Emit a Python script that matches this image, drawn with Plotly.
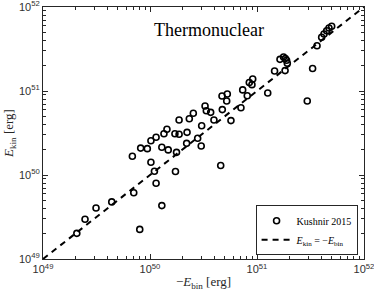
import plotly.graph_objects as go

# Kushnir 2015 data: -E_bin [erg] and E_kin [erg]
e_bin = [2.07e49, 2.47e49, 3.13e49, 4.39e49, 7.05e49, 8.02e49, 6.84e49, 8.18e49, 9.44e49,
         1.02e50, 1.02e50, 1.10e50, 1.14e50, 1.29e50, 1.29e50, 1.48e50, 1.14e50, 1.35e50,
         1.44e50, 1.77e50, 1.73e50, 2.20e50, 1.71e50, 1.87e50, 1.87e50, 2.22e50, 2.33e50,
         2.54e50, 2.79e50, 3.04e50, 3.01e50, 3.27e50, 3.36e50, 3.69e50, 3.96e50, 4.58e50,
         4.74e50, 4.71e50, 5.28e50, 5.21e50, 5.71e50, 7.08e50, 7.35e50, 8.11e50, 8.47e50,
         9.12e50, 8.97e50, 1.26e51, 1.46e51, 1.64e51, 1.77e51, 1.84e51, 1.89e51, 1.92e51,
         1.83e51, 2.95e51, 3.31e51, 3.64e51, 4.02e51, 4.23e51, 4.48e51, 4.71e51, 4.99e51]
e_kin = [2.02e49, 2.97e49, 4.05e49, 4.78e49, 6.15e49, 2.25e49, 1.67e50, 2.09e50, 2.06e50,
         2.56e50, 1.42e50, 1.11e50, 7.96e49, 4.32e49, 2.14e50, 1.99e50, 2.81e50, 3.10e50,
         3.50e50, 1.86e50, 1.10e50, 2.38e50, 3.10e50, 3.05e50, 4.52e50, 3.22e50, 4.68e50,
         5.43e50, 2.74e50, 3.86e50, 2.21e50, 6.62e50, 5.83e50, 5.57e50, 4.52e50, 1.30e50,
         6.01e50, 8.71e50, 9.20e50, 7.60e50, 4.44e50, 6.32e50, 1.03e51, 8.79e50, 1.26e51,
         1.39e51, 1.19e51, 9.46e50, 1.73e51, 2.38e51, 2.54e51, 2.43e51, 2.32e51, 2.14e51,
         1.75e51, 7.60e50, 1.85e51, 3.46e51, 4.36e51, 4.78e51, 5.22e51, 5.62e51, 5.89e51]

# identity line E_kin = -E_bin
line_x = [1e49, 1e52]
line_y = [1e49, 1e52]

tick_vals = [1e49, 1e50, 1e51, 1e52]
tick_text = ["10<sup>49</sup>", "10<sup>50</sup>", "10<sup>51</sup>", "10<sup>52</sup>"]
minor_vals = [float(m) * 10.0 ** e for e in (49, 50, 51) for m in range(2, 10)]
axis_range = [49 - 1e-4, 52 + 1e-4]

serif = "Liberation Serif, DejaVu Serif, serif"
sans = "Liberation Sans, Arial, sans-serif"

fig = go.Figure()
fig.add_trace(go.Scatter(
    x=e_bin, y=e_kin, mode="markers", name="Kushnir 2015",
    marker=dict(symbol="circle-open", size=6, color="black", line=dict(width=1.6, color="black")),
))
fig.add_trace(go.Scatter(
    x=line_x, y=line_y, mode="lines",
    name="<i>E</i><sub>kin</sub> = \u2212<i>E</i><sub>bin</sub>",
    line=dict(color="black", width=2, dash="6px,5px"),
))

axis_common = dict(
    type="log", range=axis_range, tickvals=tick_vals, ticktext=tick_text,
    showline=True, linecolor="#262626", linewidth=1, mirror="ticks",
    ticks="inside", ticklen=5, tickcolor="#262626", tickwidth=1,
    showgrid=False, zeroline=False, automargin=False, ticklabeloverflow="allow",
    tickfont=dict(family=sans, size=11, color="#303030"),
    minor=dict(ticks="inside", ticklen=3, tickcolor="#262626", showgrid=False,
               tickvals=minor_vals),
)

fig.update_layout(
    width=374, height=295,
    margin=dict(l=43, r=10, t=7, b=36),
    paper_bgcolor="white", plot_bgcolor="white",
    showlegend=True,
    xaxis=dict(**axis_common,
               title=dict(text="\u2212<i>E</i><sub>bin</sub> [erg]",
                          font=dict(family=serif, size=13, color="#262626"), standoff=2)),
    yaxis=dict(**axis_common,
               title=dict(text="<i>E</i><sub>kin</sub> [erg]",
                          font=dict(family=serif, size=13, color="#262626"), standoff=2)),
    legend=dict(x=0.98, y=0.015, xanchor="right", yanchor="bottom",
                bgcolor="white", bordercolor="#262626", borderwidth=1,
                font=dict(family=serif, size=10, color="black"),
                tracegroupgap=0, itemwidth=30),
    annotations=[dict(text="Thermonuclear", x=0.517, y=0.909, xref="paper", yref="paper",
                      xanchor="center", yanchor="middle",
                      showarrow=False, font=dict(family=serif, size=18, color="black"))],
)

fig.write_html("out.html", config={"displayModeBar": False},
               post_script="document.body.style.margin='0';document.body.style.padding='0';")
